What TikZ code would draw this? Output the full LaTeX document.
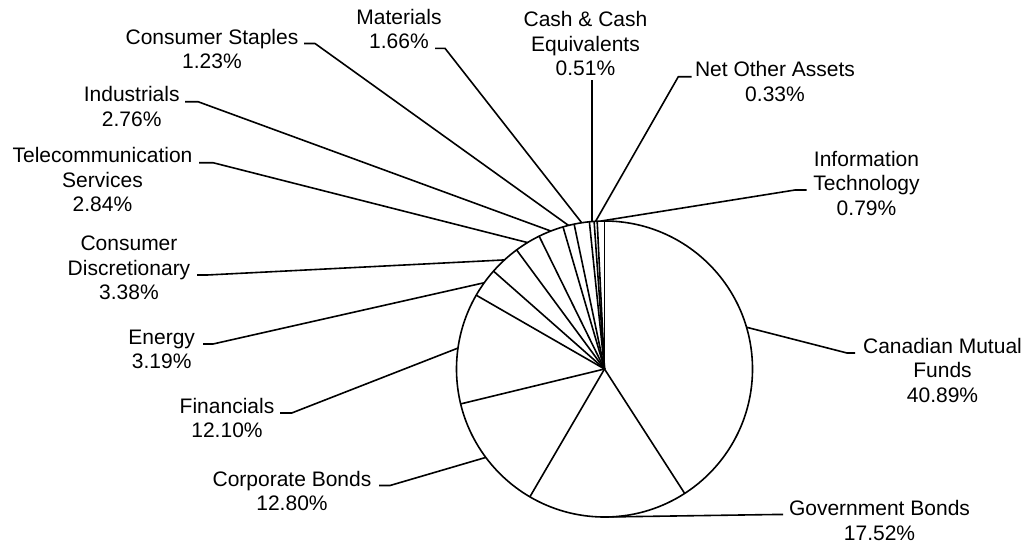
\documentclass[tikz,border=0pt]{standalone}
\usepackage{fontspec}
\setmainfont{Liberation Sans}
\usetikzlibrary{calc}
\begin{document}
\begin{tikzpicture}[x=1pt,y=-1pt,
  lbl/.style={align=center,inner sep=0pt,anchor=base,font=\fontsize{21}{24.7}\selectfont},
  lead/.style={draw=black,line width=1.6pt,line join=round},
  pie/.style={draw=black,line width=1.6pt}]
\useasboundingbox[fill=white] (0,0) rectangle (1025,544);
\coordinate (C) at (604.5,369);
\draw[pie] (C) circle[radius=148pt];
\foreach \a in {90,-57.204,-120.276,-166.356,-209.916,-221.4,-233.568,-243.792,-253.728,-258.156,-264.132,-265.968,-267.156}
  \draw[pie] (C) -- ($(C)+(\a:148pt)$);
% edge points (slice mid-angles)
\coordinate (eCan) at ($(C)+(16.398:148pt)$);
\coordinate (eGov) at ($(C)+(-88.74:148pt)$);
\coordinate (eCor) at ($(C)+(-143.316:148pt)$);
\coordinate (eFin) at ($(C)+(-188.136:148pt)$);
\coordinate (eEne) at ($(C)+(-215.658:148pt)$);
\coordinate (eCD) at ($(C)+(-227.484:148pt)$);
\coordinate (eTel) at ($(C)+(-238.68:148pt)$);
\coordinate (eInd) at ($(C)+(-248.76:148pt)$);
\coordinate (eSta) at ($(C)+(-255.942:148pt)$);
\coordinate (eMat) at ($(C)+(-261.144:148pt)$);
\coordinate (eCas) at ($(C)+(-265.05:148pt)$);
\coordinate (eNet) at ($(C)+(-266.562:148pt)$);
\coordinate (eIT) at ($(C)+(-268.578:148pt)$);
% bends and stub ends
\coordinate (bCan) at (847,353);   \coordinate (sCan) at (855,353);
\coordinate (bGov) at (775,514.5); \coordinate (sGov) at (783,514.5);
\coordinate (bCor) at (390,485.5); \coordinate (sCor) at (379,485.5);
\coordinate (bFin) at (291.7,413); \coordinate (sFin) at (280,413);
\coordinate (bEne) at (213,344);   \coordinate (sEne) at (203,344);
\coordinate (bCD) at (207,275);    \coordinate (sCD) at (197,275);
\coordinate (bTel) at (213,162.7); \coordinate (sTel) at (199,162.7);
\coordinate (bInd) at (198,101.7); \coordinate (sInd) at (185,101.7);
\coordinate (bSta) at (315,43.5);  \coordinate (sSta) at (304,43.5);
\coordinate (bMat) at (445,48.3);  \coordinate (sMat) at (435,48.3);
\coordinate (sCas) at ($(eCas|-0,80)$);
\coordinate (bNet) at (678.3,76.7); \coordinate (sNet) at (691.7,76.7);
\coordinate (bIT) at (795,190);    \coordinate (sIT) at (806.7,190);
% labels (anchor = baseline of last line)
\node[lbl] (lCan) at (942.5,402.4) {Canadian Mutual\\Funds\\40.89\%};
\node[lbl] (lGov) at (879.5,540.2) {Government Bonds\\17.52\%};
\node[lbl] (lCor) at (292,510.7) {Corporate Bonds\\12.80\%};
\node[lbl] (lFin) at (227,437.7) {Financials\\12.10\%};
\node[lbl] (lEne) at (161.7,368.7) {Energy\\3.19\%};
\node[lbl] (lCD) at (129,299.9) {Consumer\\Discretionary\\3.38\%};
\node[lbl] (lTel) at (102.5,211.9) {Telecommunication\\Services\\2.84\%};
\node[lbl] (lInd) at (131.7,126.4) {Industrials\\2.76\%};
\node[lbl] (lSta) at (212,68.7) {Consumer Staples\\1.23\%};
\node[lbl] (lMat) at (399,48.7) {Materials\\1.66\%};
\node[lbl] (lCas) at (585.5,75.9) {Cash \& Cash\\Equivalents\\0.51\%};
\node[lbl] (lNet) at (775,101.4) {Net Other Assets\\0.33\%};
\node[lbl] (lIT) at (866.5,215.4) {Information\\Technology\\0.79\%};
% leader lines
\draw[lead] (eCan) -- (bCan) -- (sCan);
\draw[lead] (eGov) -- (bGov) -- (sGov);
\draw[lead] (eCor) -- (bCor) -- (sCor);
\draw[lead] (eFin) -- (bFin) -- (sFin);
\draw[lead] (eEne) -- (bEne) -- (sEne);
\draw[lead] (eCD) -- (bCD) -- (sCD);
\draw[lead] (eTel) -- (bTel) -- (sTel);
\draw[lead] (eInd) -- (bInd) -- (sInd);
\draw[lead] (eSta) -- (bSta) -- (sSta);
\draw[lead] (eMat) -- (bMat) -- (sMat);
\draw[lead] (eCas) -- (sCas);
\draw[lead] (eNet) -- (bNet) -- (sNet);
\draw[lead] (eIT) -- (bIT) -- (sIT);
\end{tikzpicture}
\end{document}
